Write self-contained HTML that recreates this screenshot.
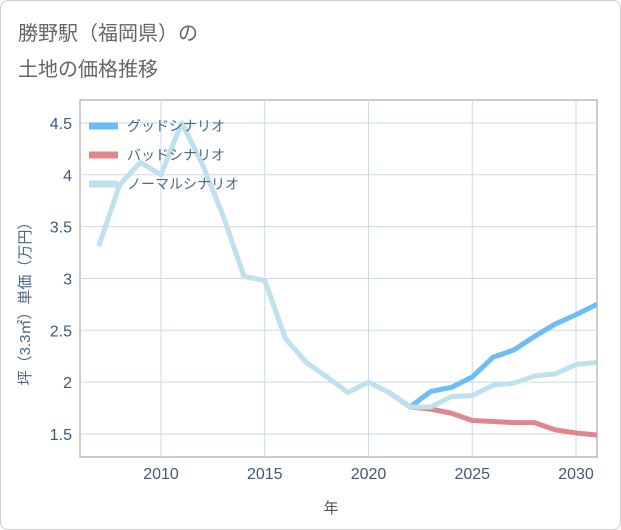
<!DOCTYPE html>
<html><head><meta charset="utf-8"><style>
body{margin:0;background:#fff;font-family:"Liberation Sans","Noto Sans CJK JP",sans-serif;}
.card{position:absolute;left:0;top:0;width:619px;height:528px;border:1px solid #ccc;border-radius:8px;background:#fff;}
</style></head><body>
<div class="card"></div>
<svg width="621" height="530" style="position:absolute;left:0;top:0">
<text x="18" y="40" font-size="20" fill="#666">勝野駅（福岡県）の</text>
<text x="18" y="76" font-size="20" fill="#666">土地の価格推移</text>
<g id="grid"></g><g id="series"></g><g id="legend"></g>
<text x="331" y="513" font-size="15" fill="#555" text-anchor="middle">年</text>
<text transform="translate(30,300) rotate(-90)" font-size="15" fill="#4a6785" text-anchor="middle">坪（3.3㎡）単価（万円）</text>
</svg>
<script>
const years=[2007,2008,2009,2010,2011,2012,2013,2014,2015,2016,2017,2018,2019,2020,2021,2022,2023,2024,2025,2026,2027,2028,2029,2030,2031];
const normal=[3.31,3.9,4.12,4.0,4.5,4.1,3.6,3.02,2.98,2.42,2.19,2.05,1.9,2.0,1.9,1.76,1.76,1.86,1.87,1.97,1.99,2.06,2.08,2.17,2.19];
const goodYears=[2021,2022,2023,2024,2025,2026,2027,2028,2029,2030,2031];
const good=[1.9,1.76,1.91,1.95,2.05,2.24,2.31,2.44,2.56,2.65,2.75];
const bad=[1.9,1.76,1.74,1.70,1.63,1.62,1.61,1.61,1.54,1.51,1.49];
const xTicks=[2010,2015,2020,2025,2030];
const yTicks=[1.5,2,2.5,3,3.5,4,4.5];
const L=80,R=597,T=100,B=457;
const x=v=>161+(v-2010)*20.75;
const y=v=>434-(v-1.5)*103.7;
const NS="http://www.w3.org/2000/svg";
function mk(p,tag,a){const e=document.createElementNS(NS,tag);for(const k in a)e.setAttribute(k,a[k]);p.appendChild(e);return e;}
const g=document.getElementById('grid');
const frame=mk(g,'rect',{x:L,y:T,width:R-L,height:B-T,fill:'none',stroke:'#999'});


xTicks.forEach(t=>{
 const l=mk(g,'line',{x1:x(t),x2:x(t),y1:T,y2:B,stroke:'#c8dce6'});
 
 
 const s=mk(g,'text',{x:x(t),y:479,'font-size':16,fill:'#3d5a78','text-anchor':'middle'});s.textContent=t;
 
 
});
yTicks.forEach(t=>{
 const l=mk(g,'line',{x1:L,x2:R,y1:y(t),y2:y(t),stroke:'#c8dce6'});
 
 
 const s=mk(g,'text',{x:72,y:y(t)+6,'font-size':16,fill:'#3d5a78','text-anchor':'end'});s.textContent=t;
 
 
});
const sg=document.getElementById('series');
function line(xs,vs,c,name){
 const p=mk(sg,'polyline',{points:xs.map((v,i)=>x(v)+','+y(vs[i])).join(' '),fill:'none',stroke:c,'stroke-width':5,'stroke-linejoin':'round'});
 
 
}
line(goodYears,bad,'#e0868c','bad-scenario-line');
line(goodYears,good,'#6cbcf5','good-scenario-line');
line(years,normal,'#bfe0ee','normal-scenario-line');
const lg=document.getElementById('legend');
[['グッドシナリオ','#6cbcf5','legend-good'],['バッドシナリオ','#e0868c','legend-bad'],['ノーマルシナリオ','#bfe0ee','legend-normal']].forEach((d,i)=>{
 const yy=126+i*29;
 const r=mk(lg,'rect',{x:89,y:yy-3.5,width:29,height:7,fill:d[1]});
 
 
 const t=mk(lg,'text',{x:127,y:yy+5,'font-size':14,fill:'#4a6785'});t.textContent=d[0];
 
 
});
</script>
</body></html>
